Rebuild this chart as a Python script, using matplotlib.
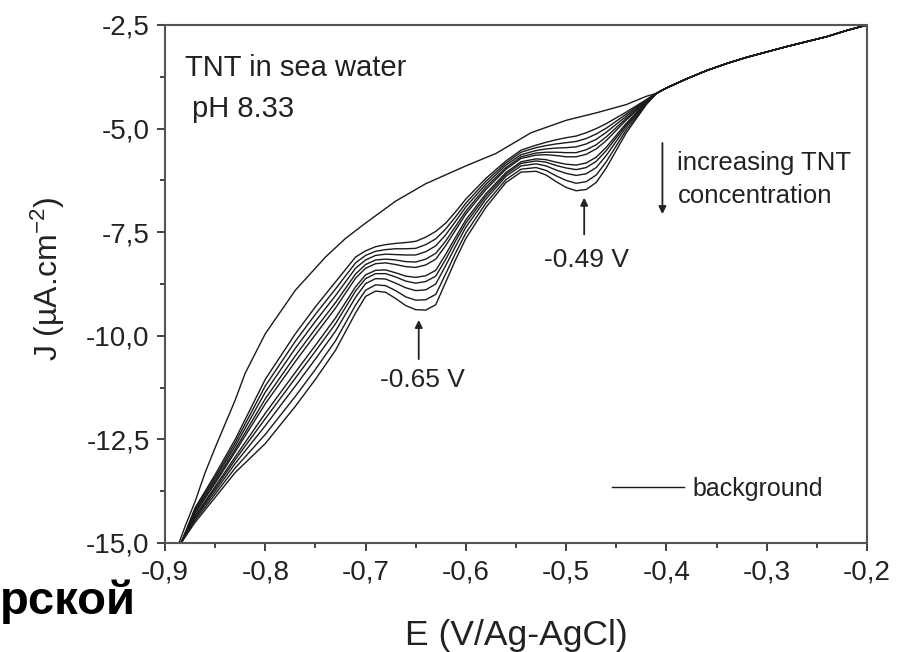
import matplotlib
matplotlib.use("Agg")
import matplotlib.pyplot as plt
import numpy as np

plt.rcParams['font.family'] = ['Liberation Sans', 'DejaVu Sans']
plt.rcParams['mathtext.default'] = 'regular'

# ---------------- data ----------------
E_tnt = [-0.884, -0.87, -0.85, -0.83, -0.80, -0.77, -0.75, -0.73, -0.71, -0.70,
         -0.69, -0.68, -0.67, -0.66, -0.65, -0.64, -0.63, -0.62, -0.61, -0.60,
         -0.58, -0.56, -0.545, -0.53, -0.52, -0.51, -0.50, -0.49, -0.48, -0.47,
         -0.46, -0.44, -0.42]

c1 = [-15.0, -14.15, -13.35, -12.5, -11.05, -9.95, -9.3, -8.7, -8.1, -7.95, -7.85, -7.8, -7.77, -7.75, -7.72, -7.62, -7.48, -7.28, -7.0, -6.7, -6.2, -5.78, -5.52, -5.4, -5.33, -5.27, -5.22, -5.18, -5.1, -5.0, -4.88, -4.6, -4.3]
c2 = [-15.0, -14.19, -13.41, -12.58, -11.21, -10.13, -9.48, -8.87, -8.24, -8.06, -7.96, -7.92, -7.9, -7.9, -7.89, -7.8, -7.66, -7.42, -7.12, -6.8, -6.27, -5.83, -5.57, -5.46, -5.41, -5.37, -5.34, -5.31, -5.24, -5.13, -4.99, -4.65, -4.31]
c3 = [-15.0, -14.22, -13.46, -12.66, -11.36, -10.3, -9.65, -9.03, -8.37, -8.17, -8.06, -8.03, -8.04, -8.05, -8.05, -7.97, -7.83, -7.56, -7.23, -6.89, -6.34, -5.88, -5.63, -5.53, -5.49, -5.47, -5.46, -5.44, -5.37, -5.26, -5.09, -4.7, -4.32]
c4 = [-15.0, -14.26, -13.52, -12.74, -11.52, -10.48, -9.83, -9.2, -8.51, -8.28, -8.17, -8.15, -8.17, -8.21, -8.22, -8.15, -8.01, -7.71, -7.35, -6.99, -6.41, -5.94, -5.68, -5.59, -5.57, -5.57, -5.58, -5.58, -5.51, -5.39, -5.2, -4.75, -4.34]
c5 = [-15.0, -14.28, -13.56, -12.8, -11.64, -10.62, -9.97, -9.33, -8.61, -8.37, -8.26, -8.24, -8.28, -8.33, -8.35, -8.29, -8.15, -7.82, -7.44, -7.06, -6.47, -5.98, -5.72, -5.64, -5.63, -5.65, -5.68, -5.68, -5.62, -5.49, -5.29, -4.79, -4.35]
c6 = [-15.0, -14.34, -13.64, -12.92, -11.87, -10.88, -10.23, -9.57, -8.82, -8.53, -8.42, -8.41, -8.48, -8.56, -8.59, -8.55, -8.42, -8.03, -7.61, -7.2, -6.57, -6.06, -5.8, -5.73, -5.75, -5.81, -5.86, -5.88, -5.83, -5.69, -5.45, -4.87, -4.36]
c7 = [-15.0, -14.36, -13.69, -12.99, -12.0, -11.02, -10.37, -9.71, -8.92, -8.62, -8.5, -8.5, -8.58, -8.68, -8.73, -8.69, -8.56, -8.15, -7.7, -7.28, -6.63, -6.1, -5.84, -5.78, -5.81, -5.89, -5.95, -5.99, -5.94, -5.79, -5.53, -4.91, -4.37]
c8 = [-15.0, -14.4, -13.75, -13.08, -12.17, -11.21, -10.56, -9.89, -9.07, -8.74, -8.62, -8.63, -8.73, -8.84, -8.91, -8.89, -8.75, -8.3, -7.83, -7.38, -6.7, -6.15, -5.9, -5.85, -5.9, -6.0, -6.08, -6.13, -6.09, -5.94, -5.65, -4.96, -4.39]
c9 = [-15.0, -14.45, -13.82, -13.19, -12.38, -11.46, -10.81, -10.12, -9.26, -8.9, -8.77, -8.79, -8.91, -9.06, -9.14, -9.13, -9.0, -8.5, -7.99, -7.52, -6.8, -6.23, -5.98, -5.94, -6.01, -6.14, -6.25, -6.32, -6.28, -6.12, -5.8, -5.03, -4.4]
c10 = [-15.0, -14.5, -13.9, -13.3, -12.6, -11.7, -11.05, -10.35, -9.45, -9.05, -8.92, -8.95, -9.1, -9.27, -9.37, -9.38, -9.25, -8.7, -8.15, -7.65, -6.9, -6.3, -6.05, -6.03, -6.12, -6.28, -6.42, -6.5, -6.47, -6.3, -5.95, -5.1, -4.42]

# background scan
E_bg = [-0.886, -0.88, -0.87, -0.86, -0.85, -0.83, -0.82, -0.80, -0.77, -0.74,
        -0.72, -0.70, -0.67, -0.64, -0.60, -0.57, -0.535, -0.50, -0.47, -0.44, -0.42]
J_bg = [-15.0, -14.6, -14.0, -13.3, -12.7, -11.55, -10.9, -9.95, -8.9, -8.1,
        -7.65, -7.28, -6.75, -6.33, -5.9, -5.6, -5.1, -4.8, -4.62, -4.42, -4.22]

# common part where all scans overlap
E_tail = [-0.41, -0.40, -0.38, -0.36, -0.34, -0.32, -0.30, -0.28, -0.26, -0.24, -0.22, -0.20]
J_tail = [-4.15, -4.02, -3.8, -3.6, -3.43, -3.28, -3.15, -3.02, -2.9, -2.78, -2.63, -2.5]

tnt_curves = [c1, c2, c3, c4, c5, c6, c7, c8, c9, c10]

x_ticks = [-0.9, -0.8, -0.7, -0.6, -0.5, -0.4, -0.3, -0.2]
x_ticklabels = ["-0,9", "-0,8", "-0,7", "-0,6", "-0,5", "-0,4", "-0,3", "-0,2"]
y_ticks = [-15.0, -12.5, -10.0, -7.5, -5.0, -2.5]
y_ticklabels = ["-15,0", "-12,5", "-10,0", "-7,5", "-5,0", "-2,5"]

# ---------------- figure ----------------
fig = plt.figure(figsize=(8.99, 6.52), dpi=100)
ax = fig.add_axes([165/899, 109/652, 702/899, 518/652])

lc = '#1a1a1a'
for c in tnt_curves:
    ax.plot(E_tnt + E_tail, c + J_tail, color=lc, lw=1.0, solid_joinstyle='round')
ax.plot(E_bg + E_tail, J_bg + J_tail, color=lc, lw=1.0)

ax.set_xlim(-0.9, -0.2)
ax.set_ylim(-15.0, -2.5)
ax.set_xticks(x_ticks)
ax.set_xticklabels(x_ticklabels)
ax.set_yticks(y_ticks)
ax.set_yticklabels(y_ticklabels)
ax.set_xticks(np.arange(-0.85, -0.2, 0.1), minor=True)
ax.set_yticks(np.arange(-13.75, -2.6, 2.5), minor=True)

ax.tick_params(which='major', direction='out', length=6, width=1.3, labelsize=20,
               colors='#333333', labelcolor='#222222')
ax.tick_params(axis='x', which='major', pad=6)
ax.tick_params(axis='y', which='major', pad=5)
ax.tick_params(which='minor', direction='out', length=3.5, width=1.3, colors='#333333')
for s in ax.spines.values():
    s.set_color('#555555')
    s.set_linewidth(1.5)

ax.set_xlabel("E (V/Ag-AgCl)", fontsize=25.5, color='#222222')
ax.xaxis.set_label_coords(0.5, -(619 - 543) / 518)
ax.set_ylabel(r"J (µA.cm$^{-2}$)", fontsize=23, color='#222222')
ax.yaxis.set_label_coords((67 - 165) / 702, 0.51)

tc = '#222222'
ax.text(-0.880, -3.54, "TNT in sea water", fontsize=21, color=tc, va='center', ha='left')
ax.text(-0.873, -4.52, "pH 8.33", fontsize=21, color=tc, va='center', ha='left')
ax.text(-0.389, -5.83, "increasing TNT", fontsize=18.5, color=tc, va='center', ha='left')
ax.text(-0.389, -6.62, "concentration", fontsize=18.5, color=tc, va='center', ha='left')
ax.annotate("", xy=(-0.404, -7.13), xytext=(-0.404, -5.28),
            arrowprops=dict(arrowstyle='-|>', color=tc, lw=1.3, mutation_scale=11))
ax.text(-0.480, -8.17, "-0.49 V", fontsize=19, color=tc, va='center', ha='center')
ax.annotate("", xy=(-0.482, -6.6), xytext=(-0.482, -7.62),
            arrowprops=dict(arrowstyle='-|>', color=tc, lw=1.3, mutation_scale=11))
ax.text(-0.643, -11.07, "-0.65 V", fontsize=19, color=tc, va='center', ha='center')
ax.annotate("", xy=(-0.647, -9.55), xytext=(-0.647, -10.63),
            arrowprops=dict(arrowstyle='-|>', color=tc, lw=1.3, mutation_scale=11))

ax.plot([-0.454, -0.382], [-13.65, -13.65], color=lc, lw=1.0)
ax.text(-0.374, -13.7, "background", fontsize=18, color=tc, va='center', ha='left')

fig.text(0.0, 1 - 614/652, "рской", fontsize=34, fontweight='bold', color='black',
         ha='left', va='baseline')

fig.savefig("out.png", dpi=100, facecolor='white')
